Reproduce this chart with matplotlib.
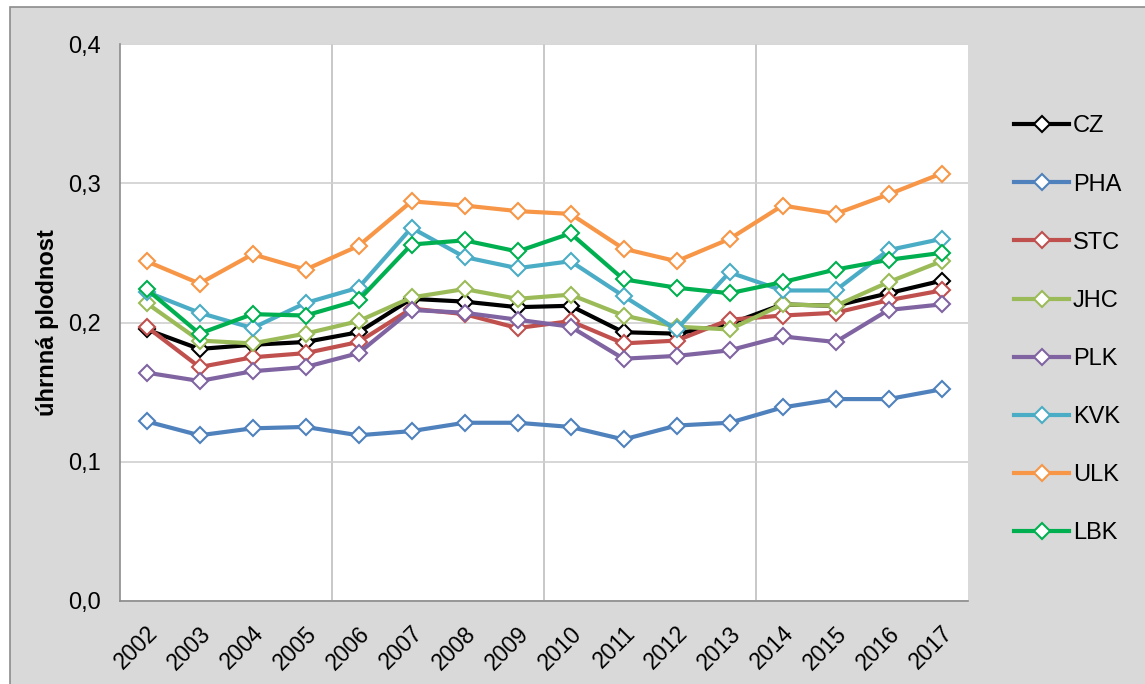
import matplotlib.pyplot as plt
from matplotlib.patches import Rectangle

plt.rcParams['font.family'] = ['Liberation Sans', 'DejaVu Sans']

roky = ['2002', '2003', '2004', '2005', '2006', '2007', '2008', '2009',
        '2010', '2011', '2012', '2013', '2014', '2015', '2016', '2017']

cz  = [0.195, 0.181, 0.184, 0.186, 0.193, 0.217, 0.215, 0.211,
       0.212, 0.193, 0.192, 0.199, 0.213, 0.212, 0.221, 0.230]
pha = [0.129, 0.119, 0.124, 0.125, 0.119, 0.122, 0.128, 0.128,
       0.125, 0.116, 0.126, 0.128, 0.139, 0.145, 0.145, 0.152]
stc = [0.197, 0.168, 0.175, 0.178, 0.186, 0.210, 0.206, 0.196,
       0.201, 0.185, 0.187, 0.202, 0.205, 0.207, 0.216, 0.223]
jhc = [0.214, 0.187, 0.185, 0.192, 0.201, 0.218, 0.224, 0.217,
       0.220, 0.205, 0.197, 0.195, 0.213, 0.212, 0.229, 0.244]
plk = [0.164, 0.158, 0.165, 0.168, 0.178, 0.209, 0.207, 0.202,
       0.197, 0.174, 0.176, 0.180, 0.190, 0.186, 0.209, 0.213]
kvk = [0.222, 0.207, 0.196, 0.214, 0.225, 0.268, 0.247, 0.239,
       0.244, 0.219, 0.195, 0.236, 0.223, 0.223, 0.252, 0.260]
ulk = [0.244, 0.228, 0.249, 0.238, 0.255, 0.287, 0.284, 0.280,
       0.278, 0.253, 0.244, 0.260, 0.284, 0.278, 0.292, 0.307]
lbk = [0.224, 0.192, 0.206, 0.205, 0.216, 0.256, 0.259, 0.251,
       0.264, 0.231, 0.225, 0.221, 0.229, 0.238, 0.245, 0.250]

kraje = ['CZ', 'PHA', 'STC', 'JHC', 'PLK', 'KVK', 'ULK', 'LBK']
hodnoty = [cz, pha, stc, jhc, plk, kvk, ulk, lbk]
barvy = ['#000000', '#4F81BD', '#C0504D', '#9BBB59', '#8064A2',
         '#4BACC6', '#F79646', '#00B050']

fig = plt.figure(figsize=(11.45, 6.84), dpi=100)
fig.patch.set_facecolor('white')

# sede pozadi grafu s okrajem
W, H = 1145, 684
fig.patches.append(Rectangle((10 / W, -0.01), 1.1, 1 - 7 / H + 0.01,
                             transform=fig.transFigure, facecolor='#D9D9D9',
                             edgecolor='#8C8C8C', linewidth=1.2, zorder=-10))

ax = fig.add_axes([120 / W, 1 - 601 / H, (968 - 120) / W, (601 - 44) / H])
ax.set_facecolor('white')
ax.set_zorder(1)

x = list(range(len(roky)))
for nazev, y, c in zip(kraje, hodnoty, barvy):
    ax.plot(x, y, color=c, linewidth=3, marker='D', markersize=8,
            markerfacecolor='white', markeredgecolor=c, markeredgewidth=1.5,
            label=nazev)

ax.set_xlim(-0.5, 15.5)
ax.set_ylim(0, 0.4)
ax.set_yticks([0, 0.1, 0.2, 0.3, 0.4])
ax.set_yticklabels(['0,0', '0,1', '0,2', '0,3', '0,4'], fontsize=17)
ax.set_xticks(x)
ax.set_xticklabels(roky, rotation=45, ha='right', va='top',
                   rotation_mode='anchor', fontsize=16.5)
ax.tick_params(axis='y', length=0, pad=14)
ax.tick_params(axis='x', length=0, pad=15)

# svisle mrizky po ctyrech letech
ax.set_xticks([3.5, 7.5, 11.5], minor=True)
ax.grid(True, which='minor', axis='x', color='#BFBFBF', linewidth=1.2)
ax.grid(True, which='major', axis='y', color='#D0D0D0', linewidth=1.2)
ax.tick_params(which='minor', length=0)
ax.set_axisbelow(True)

for s in ['top', 'right']:
    ax.spines[s].set_visible(False)
ax.spines['left'].set_color('#8C8C8C')
ax.spines['bottom'].set_color('#8C8C8C')
ax.spines['left'].set_linewidth(1.2)
ax.spines['bottom'].set_linewidth(1.2)

ax.set_ylabel('úhrnná plodnost', fontsize=17, fontweight='bold', labelpad=6)

leg = ax.legend(loc='upper left', bbox_to_anchor=(1005 / W, 1 - 106 / H),
                bbox_transform=fig.transFigure, frameon=False, fontsize=17,
                handlelength=2.3, handletextpad=0.17, labelspacing=1.53,
                borderaxespad=0)

fig.savefig('out.png', dpi=100, facecolor=fig.get_facecolor())
